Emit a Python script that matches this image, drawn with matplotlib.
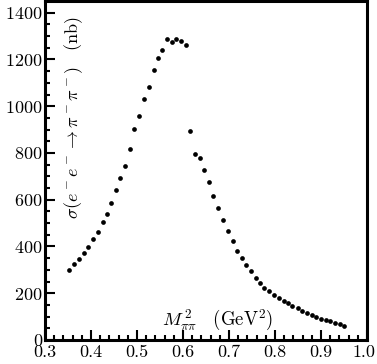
import numpy as np
import matplotlib
matplotlib.use("Agg")
import matplotlib.pyplot as plt
import matplotlib.transforms as mtrans
from matplotlib.ticker import MultipleLocator

plt.rcParams['font.family'] = ['cmr10', 'DejaVu Serif']
plt.rcParams['mathtext.fontset'] = 'cm'
plt.rcParams['axes.formatter.use_mathtext'] = True
plt.rcParams['axes.unicode_minus'] = False

# M_pipi^2 (GeV^2) and cross section (nb)
m2 = [0.353, 0.364, 0.374, 0.385, 0.393, 0.404, 0.415, 0.425, 0.435, 0.444,
      0.455, 0.463, 0.474, 0.485, 0.494, 0.505, 0.515, 0.525, 0.536, 0.546,
      0.555, 0.566, 0.575, 0.585, 0.596, 0.606,
      0.616, 0.625, 0.636, 0.646, 0.656, 0.666, 0.677, 0.687, 0.697, 0.708,
      0.718, 0.728, 0.738, 0.748, 0.758, 0.768, 0.777, 0.788, 0.798, 0.808,
      0.819, 0.829, 0.838, 0.849, 0.859, 0.869, 0.880, 0.890, 0.900, 0.910,
      0.920, 0.930, 0.941, 0.951]
sigma = [300, 324, 345, 372, 398, 431, 464, 504, 541, 584,
         642, 692, 746, 819, 903, 958, 1030, 1082, 1156, 1206,
         1240, 1289, 1273, 1286, 1281, 1260,
         892, 796, 779, 726, 675, 618, 566, 512, 467, 425,
         380, 352, 321, 294, 264, 243, 223, 208, 194, 180,
         168, 157, 146, 136, 125, 117, 108, 100, 91, 86,
         80, 73, 67, 61]
xticks = [0.3, 0.4, 0.5, 0.6, 0.7, 0.8, 0.9, 1.0]
xticklabels = ['0.3', '0.4', '0.5', '0.6', '0.7', '0.8', '0.9', '1.0']

fig = plt.figure(figsize=(3.77, 3.64), dpi=100)
ax = fig.add_axes([45 / 377, 24 / 364, 322 / 377, 339 / 364])

ax.plot(m2, sigma, 'o', color='black', markersize=3.4, markeredgewidth=0)

ax.set_xlim(0.3, 1.0)
ax.set_ylim(0, 1450)
ax.xaxis.set_minor_locator(MultipleLocator(0.02))
ax.yaxis.set_major_locator(MultipleLocator(200))
ax.yaxis.set_minor_locator(MultipleLocator(50))
ax.set_xticks(xticks)
ax.set_xticklabels(xticklabels)

ax.tick_params(which='both', direction='in', top=False, right=False,
               width=1.5, labelsize=13, pad=1.5)
ax.tick_params(axis='x', pad=3.5)
ax.tick_params(which='major', length=7)
ax.tick_params(which='minor', length=3.5)
for s in ax.spines.values():
    s.set_linewidth(2.2)

fig.canvas.draw()
# pull the last x label in so it stays inside the figure
last = ax.xaxis.get_major_ticks()[-1].label1
last.set_transform(last.get_transform() +
                   mtrans.ScaledTranslation(-3 / 100, 0, fig.dpi_scale_trans))
# lift the y "0" a little so it clears the "0.3" below it
zero = ax.yaxis.get_major_ticks()[0].label1
zero.set_transform(zero.get_transform() +
                   mtrans.ScaledTranslation(0, 4 / 100, fig.dpi_scale_trans))

ax.text(0.362, 950, r'$\sigma(e^-e^-\to\pi^-\pi^-)\quad(\mathrm{nb})$',
        rotation=90, ha='center', va='center', fontsize=13)
ax.text(0.676, 82, r'$M_{\pi\pi}^{\,2}\quad(\mathrm{GeV}^2)$',
        ha='center', va='center', fontsize=13.5)

fig.savefig('out.png', dpi=100)
